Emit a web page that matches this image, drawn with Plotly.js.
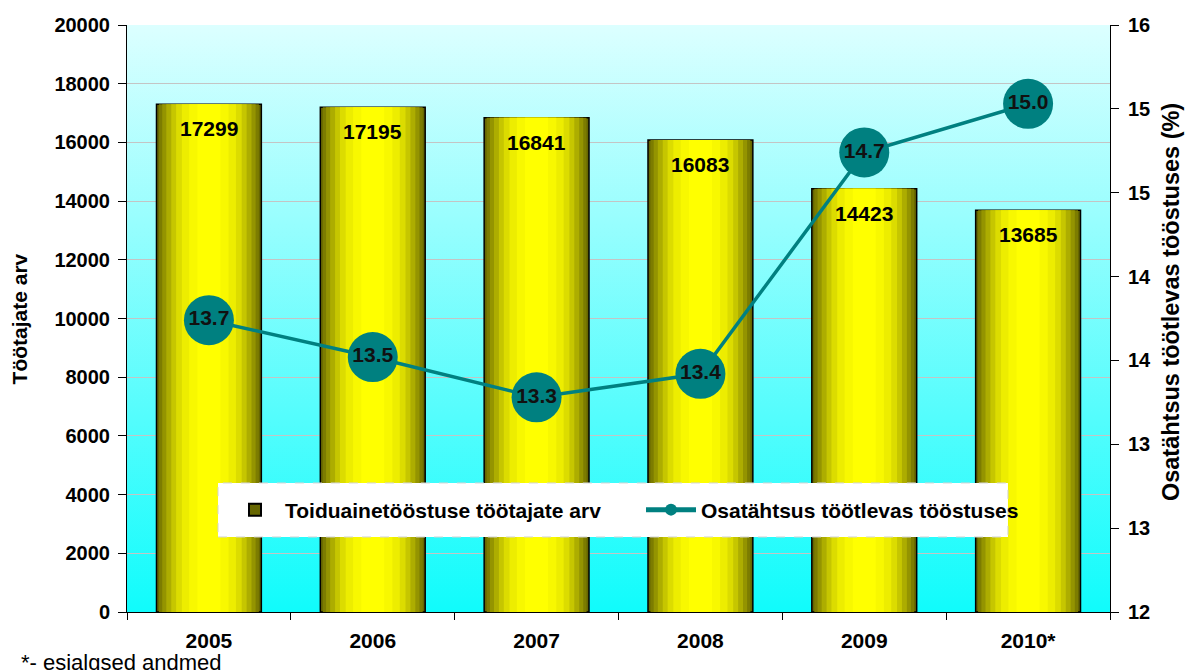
<!DOCTYPE html>
<html>
<head>
<meta charset="utf-8">
<script src="https://cdn.plot.ly/plotly-3.0.1.min.js"></script>
<style>
  html, body { margin: 0; padding: 0; background: #fff; }
  #plot { width: 1186px; height: 670px; }
</style>
</head>
<body>
<div id="plot"></div>
<script>
// Data
var years = ["2005", "2006", "2007", "2008", "2009", "2010*"];
var workers = [17299, 17195, 16841, 16083, 14423, 13685];
var share = [13.74, 13.52, 13.28, 13.42, 14.74, 15.03];

var barName = "Toiduainetööstuse töötajate arv";
var lineName = "Osatähtsus töötlevas tööstuses";

// Cylinder-like shading: overlay bars from dark edge to bright middle
var shades = [
  { w: 0.64, c: "#666600" },
  { w: 0.61, c: "#7c7c00" },
  { w: 0.57, c: "#949400" },
  { w: 0.52, c: "#adad00" },
  { w: 0.46, c: "#c6c600" },
  { w: 0.40, c: "#dcdc00" },
  { w: 0.33, c: "#eded00" },
  { w: 0.24, c: "#f8f800" },
  { w: 0.14, c: "#ffff00" }
];

var data = [];
shades.forEach(function (s, i) {
  data.push({
    x: years,
    y: workers,
    type: "bar",
    width: s.w,
    name: barName,
    showlegend: i === 0,
    hoverinfo: i === 0 ? "x+y" : "skip",
    marker: {
      color: s.c,
      line: { color: i === 0 ? "#000" : s.c, width: i === 0 ? 1.5 : 0 }
    },
    yaxis: "y"
  });
});

data.push({
  x: years,
  y: share,
  type: "scatter",
  mode: "lines+markers+text",
  name: lineName,
  yaxis: "y2",
  line: { color: "#008080", width: 3.5 },
  marker: { color: "#008080", size: 50 },
  texttemplate: "%{y:.1f}",
  textposition: "middle center",
  textfont: { family: "Liberation Sans, Arial, sans-serif", size: 21, color: "#111", weight: "bold" },
  cliponaxis: false
});

// Bar value labels (category axis -> serial index)
var annotations = years.map(function (yr, i) {
  return {
    x: i, y: workers[i], xref: "x", yref: "y",
    text: "<b>" + workers[i] + "</b>",
    showarrow: false, yanchor: "top", yshift: -11,
    font: { family: "Liberation Sans, Arial, sans-serif", size: 21, color: "#000" }
  };
});
// axis titles
annotations.push({
  xref: "paper", yref: "paper", x: -0.1089, y: 0.5,
  xanchor: "center", yanchor: "middle", textangle: -90,
  text: "<b>Töötajate arv</b>", showarrow: false,
  font: { family: "Liberation Sans, Arial, sans-serif", size: 21, color: "#000" }
});
annotations.push({
  xref: "paper", yref: "paper", x: 1.0621, y: 0.528,
  xanchor: "center", yanchor: "middle", textangle: -90,
  text: "<b>Osatähtsus töötlevas tööstuses (%)</b>", showarrow: false,
  font: { family: "Liberation Sans, Arial, sans-serif", size: 23.5, color: "#000" }
});
// footnote
annotations.push({
  xref: "paper", yref: "paper", x: -0.110, y: -0.062,
  xanchor: "left", yanchor: "top",
  text: "*- esialgsed andmed", showarrow: false,
  font: { family: "Liberation Sans, Arial, sans-serif", size: 22, color: "#000" }
});

var bgSvg = '<svg xmlns="http://www.w3.org/2000/svg" width="100" height="100" preserveAspectRatio="none">' +
  '<defs><linearGradient id="g" x1="0" y1="0" x2="0" y2="1">' +
  '<stop offset="0" stop-color="#dcffff"/><stop offset="1" stop-color="#10fcfc"/>' +
  '</linearGradient></defs><rect width="100" height="100" fill="url(#g)"/></svg>';

var layout = {
  width: 1186,
  height: 670,
  margin: { l: 127, r: 76, t: 25, b: 58 },
  paper_bgcolor: "#fff",
  plot_bgcolor: "rgba(0,0,0,0)",
  font: { family: "Liberation Sans, Arial, sans-serif", size: 21, color: "#000" },
  barmode: "overlay",
  images: [{
    source: "data:image/svg+xml;charset=utf-8," + encodeURIComponent(bgSvg),
    xref: "paper", yref: "paper", x: 0, y: 1, sizex: 1, sizey: 1,
    sizing: "stretch", layer: "below", xanchor: "left", yanchor: "top"
  }],
  // white legend box (taller than plotly's own)
  shapes: [{
    type: "rect", xref: "paper", yref: "paper",
    x0: 0.0926, x1: 0.8962, y0: 0.1278, y1: 0.2198,
    fillcolor: "#fff", line: { color: "#d4d4d4", width: 1, dash: "dash" },
    layer: "above"
  }],
  xaxis: {
    type: "category",
    range: [-0.5, 5.5],
    showline: true, linecolor: "#000", linewidth: 1,
    ticks: "outside", ticklen: 7, tickcolor: "#000", tickson: "boundaries",
    tickfont: { size: 21, weight: "bold" },
    ticklabelstandoff: 10,
    tickangle: 0,
    showgrid: false
  },
  yaxis: {
    range: [0, 20000], dtick: 2000, tickformat: "d",
    showline: true, linecolor: "#000", linewidth: 1,
    ticks: "outside", ticklen: 8, tickcolor: "#000",
    tickfont: { size: 20, weight: "bold" },
    ticklabelstandoff: 4,
    gridcolor: "#c4c4c4", gridwidth: 1,
    zeroline: false
  },
  yaxis2: {
    overlaying: "y", side: "right",
    range: [12, 15.5], dtick: 0.5, tickformat: ".0f",
    showline: true, linecolor: "#000", linewidth: 1,
    ticks: "outside", ticklen: 8, tickcolor: "#000",
    tickfont: { size: 20, weight: "bold" },
    ticklabelstandoff: 5,
    showgrid: false, zeroline: false
  },
  legend: {
    orientation: "h",
    x: 0.0997, y: 0.1738, xanchor: "left", yanchor: "middle",
    bgcolor: "rgba(0,0,0,0)", borderwidth: 0,
    itemsizing: "constant",
    itemwidth: 50,
    entrywidth: 351, entrywidthmode: "pixels",
    font: { size: 21, weight: "bold" },
    traceorder: "normal"
  },
  annotations: annotations,
  showlegend: true
};

Plotly.newPlot("plot", data, layout, { displayModeBar: false, staticPlot: true });
</script>
</body>
</html>
